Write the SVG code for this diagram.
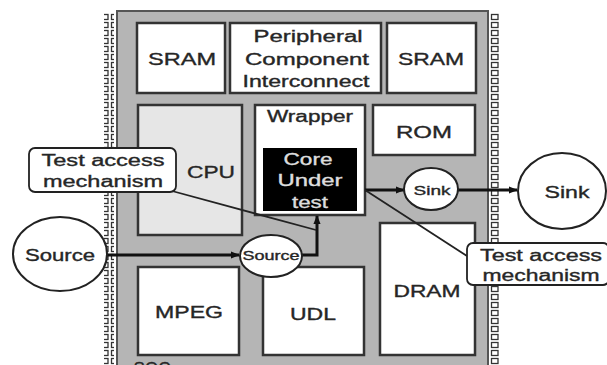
<svg xmlns="http://www.w3.org/2000/svg" width="607" height="365" viewBox="0 0 607 365">
<style>
.box{fill:#fff;stroke:#333;stroke-width:2.5}
.t{font-family:"Liberation Sans",Arial,sans-serif;fill:#262626;stroke:#262626;stroke-width:0.35;text-anchor:middle}
.w{fill:#ddd;stroke:#ddd}
.conn{stroke:#111;stroke-width:3;fill:none}
.thin{stroke:#222;stroke-width:1.8;fill:none}
.ell{fill:#fff;stroke:#222;stroke-width:2}
</style>
<defs>
<pattern id="pins" x="0" y="13" width="10" height="8" patternUnits="userSpaceOnUse">
<rect x="1.5" y="1.5" width="6.5" height="5" fill="#fff" stroke="#333" stroke-width="1.3"/>
</pattern>
<marker id="arr" viewBox="0 0 10 10" refX="9" refY="5" markerWidth="3" markerHeight="3" orient="auto">
<path d="M0,1 L10,5 L0,9 z" fill="#111"/>
</marker>
</defs>
<rect width="607" height="365" fill="#fff"/>
<g id="chip">
<rect x="104" y="13" width="10" height="360" fill="url(#pins)"/>
<rect x="489" y="13" width="10" height="360" fill="url(#pins)"/>
<rect x="117" y="11" width="371" height="365" fill="#b5b5b5" stroke="#555" stroke-width="2"/>
<text class="t" x="152" y="374" font-size="17">SOC</text>
</g>
<g id="sram1"><rect class="box" x="137" y="23" width="88" height="70"/><text class="t" x="182" y="65" font-size="17" textLength="68" lengthAdjust="spacingAndGlyphs">SRAM</text></g>
<g id="pci"><rect class="box" x="230" y="23" width="151" height="70"/>
<text class="t" x="308" y="42" font-size="16" textLength="109" lengthAdjust="spacingAndGlyphs">Peripheral</text>
<text class="t" x="307" y="65" font-size="16" textLength="124" lengthAdjust="spacingAndGlyphs">Component</text>
<text class="t" x="306" y="87" font-size="16" textLength="127" lengthAdjust="spacingAndGlyphs">Interconnect</text></g>
<g id="sram2"><rect class="box" x="387" y="23" width="89" height="70"/><text class="t" x="431" y="65" font-size="17" textLength="66" lengthAdjust="spacingAndGlyphs">SRAM</text></g>
<g id="cpu"><rect class="box" x="138" y="105" width="104" height="130" style="fill:#e6e6e6"/><text class="t" x="211" y="178" font-size="17" textLength="48" lengthAdjust="spacingAndGlyphs">CPU</text></g>
<g id="wrapper"><rect class="box" x="255" y="105" width="110" height="110"/><text class="t" x="310" y="122" font-size="16" textLength="86" lengthAdjust="spacingAndGlyphs">Wrapper</text></g>
<g id="core"><rect x="263" y="148" width="94" height="63" fill="#000"/>
<text class="t w" x="308" y="165" font-size="16" textLength="49" lengthAdjust="spacingAndGlyphs">Core</text>
<text class="t w" x="310" y="186" font-size="16" textLength="65" lengthAdjust="spacingAndGlyphs">Under</text>
<text class="t w" x="310" y="208" font-size="16" textLength="36" lengthAdjust="spacingAndGlyphs">test</text></g>
<g id="rom"><rect class="box" x="373" y="105" width="102" height="50"/><text class="t" x="424" y="138" font-size="17" textLength="56" lengthAdjust="spacingAndGlyphs">ROM</text></g>
<g id="mpeg"><rect class="box" x="138" y="267" width="101" height="88"/><text class="t" x="189" y="318" font-size="17" textLength="68" lengthAdjust="spacingAndGlyphs">MPEG</text></g>
<g id="udl"><rect class="box" x="263" y="267" width="101" height="88"/><text class="t" x="313" y="320" font-size="17" textLength="46" lengthAdjust="spacingAndGlyphs">UDL</text></g>
<g id="dram"><rect class="box" x="380" y="223" width="95" height="132"/><text class="t" x="427" y="297" font-size="17" textLength="67" lengthAdjust="spacingAndGlyphs">DRAM</text></g>
<g id="connectors">
<line class="conn" x1="107" y1="255" x2="239" y2="255" marker-end="url(#arr)"/>
<polyline class="conn" points="301,255 317,255 317,216" marker-end="url(#arr)"/>
<line class="conn" x1="365" y1="190" x2="404" y2="190" marker-end="url(#arr)"/>
<line class="conn" x1="458" y1="190" x2="517" y2="190" marker-end="url(#arr)"/>
<line class="thin" x1="172" y1="191" x2="316" y2="230"/>
<line class="thin" x1="365" y1="190" x2="467" y2="256"/>
</g>
<g id="tam-left"><rect x="29" y="148" width="147" height="44" rx="6" fill="#fff" stroke="#222" stroke-width="1.8"/>
<text class="t" x="103" y="166" font-size="16" textLength="123" lengthAdjust="spacingAndGlyphs">Test access</text>
<text class="t" x="103" y="187" font-size="16" textLength="120" lengthAdjust="spacingAndGlyphs">mechanism</text></g>
<g id="tam-right"><rect x="467" y="243" width="142" height="42" rx="6" fill="#fff" stroke="#222" stroke-width="1.8"/>
<text class="t" x="541" y="261" font-size="16" textLength="122" lengthAdjust="spacingAndGlyphs">Test access</text>
<text class="t" x="541" y="281" font-size="16" textLength="117" lengthAdjust="spacingAndGlyphs">mechanism</text></g>
<g id="source-ext"><ellipse class="ell" cx="60" cy="254" rx="47" ry="37"/><text class="t" x="60" y="261" font-size="16" textLength="70" lengthAdjust="spacingAndGlyphs">Source</text></g>
<g id="source-int"><ellipse class="ell" cx="271" cy="256" rx="31" ry="21"/><text class="t" x="271" y="260" font-size="12" textLength="57" lengthAdjust="spacingAndGlyphs">Source</text></g>
<g id="sink-int"><ellipse class="ell" cx="431" cy="189" rx="27" ry="21"/><text class="t" x="432" y="195" font-size="13" textLength="37" lengthAdjust="spacingAndGlyphs">Sink</text></g>
<g id="sink-ext"><ellipse class="ell" cx="562" cy="191" rx="44" ry="38"/><text class="t" x="567" y="198" font-size="16" textLength="45" lengthAdjust="spacingAndGlyphs">Sink</text></g>
</svg>
